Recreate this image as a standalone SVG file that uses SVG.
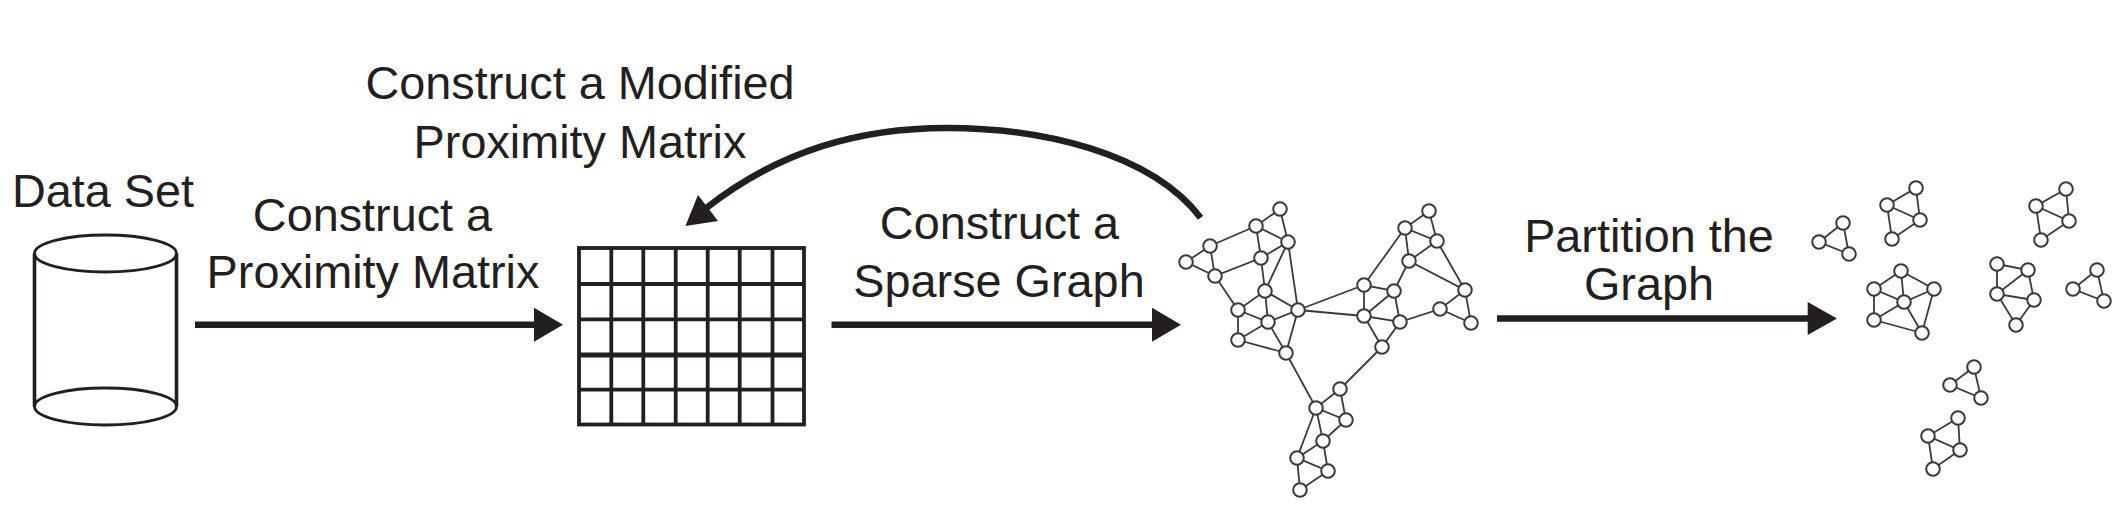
<svg xmlns="http://www.w3.org/2000/svg" width="2124" height="510" viewBox="0 0 2124 510">
<defs><style>
text{font-family:"Liberation Sans",Arial,sans-serif;font-size:46.8px;fill:#231f20;text-anchor:middle}
.o{fill:none;stroke:#231f20;stroke-width:2.8}
.w{fill:none;stroke:#231f20;stroke-width:3.6}
.g{fill:none;stroke:#231f20;stroke-width:3.8}
.t{fill:none;stroke:#231f20;stroke-width:5}
.s{fill:none;stroke:#231f20;stroke-width:6.6}
.h{fill:#231f20}
.e{fill:none;stroke:#3a3a3a;stroke-width:1.8}
circle{fill:#fff;stroke:#3a3a3a;stroke-width:2;r:6.8px}
</style></defs>
<rect width="2124" height="510" fill="#fff"/>
<g id="labels">
<text x="103" y="206.5">Data Set</text>
<text x="372.5" y="230.5">Construct a</text>
<text x="373" y="288">Proximity Matrix</text>
<text x="580" y="99">Construct a Modified</text>
<text x="580" y="158">Proximity Matrix</text>
<text x="999.5" y="239">Construct a</text>
<text x="999" y="296.5">Sparse Graph</text>
<text x="1649" y="252">Partition the</text>
<text x="1649" y="300">Graph</text>
</g>
<g id="dataset">
<path class="w" d="M34.5 253.5V406.5M176.5 253.5V406.5"/>
<ellipse class="o" cx="105.5" cy="253.5" rx="71" ry="18.5"/>
<ellipse class="o" cx="105.5" cy="406.5" rx="71" ry="18.5"/>
</g>
<g id="matrix">
<rect class="g" x="579" y="248" width="225" height="176.5"/>
<path class="g" d="M611.3 248V424.5M643.3 248V424.5M675.7 248V424.5M707.7 248V424.5M739.7 248V424.5M772.5 248V424.5M579 284H804M579 319.3H804M579 389.7H804"/>
<path class="t" d="M579 355H804"/>
</g>
<g id="connectors">
<path class="s" d="M195 324.7H536"/>
<path class="h" d="M534 307.7L563 324.7L534 341.7Z"/>
<path class="s" d="M831.5 324.7H1154"/>
<path class="h" d="M1152 307.7L1181 324.7L1152 341.7Z"/>
<path class="s" d="M1497 318.5H1810"/>
<path class="h" d="M1807.7 302L1837 318.5L1807.7 335Z"/>
<path class="s" d="M1200.6 217.7C1150 152 1040 128 947 128C860 128 780 150 705 209"/>
<path class="h" d="M685.4 226L698 195L718 221Z"/>
</g>
<g id="sparse-graph">
<path class="e" d="M1280 209L1256 226L1288 242L1280 209M1256 226L1210 246L1186 262L1215 276L1210 246M1256 226L1261 258L1288 242L1265 291L1261 258L1215 276L1238 310L1265 291L1298 310L1288 242M1265 291L1268 322L1238 310L1238 340L1268 322L1298 310L1286 353L1268 322M1238 340L1286 353M1298 310L1364 285M1298 310L1364 316M1429 211L1405 228L1437 241L1429 211M1405 228L1409 261L1437 241L1465 290L1409 261L1394 291L1364 285L1364 316L1394 291L1400 322L1364 316L1382 347L1400 322L1440 309L1465 290L1471 323L1440 309M1405 228L1364 285M1382 347L1340 389L1316 408L1286 353M1340 389L1346 420L1316 408L1323 441L1346 420M1316 408L1297 458L1323 441L1328 471L1297 458L1300 490L1328 471"/>
<circle cx="1280" cy="209"/><circle cx="1256" cy="226"/><circle cx="1288" cy="242"/><circle cx="1210" cy="246"/><circle cx="1261" cy="258"/><circle cx="1186" cy="262"/><circle cx="1215" cy="276"/><circle cx="1265" cy="291"/><circle cx="1238" cy="310"/><circle cx="1298" cy="310"/><circle cx="1268" cy="322"/><circle cx="1238" cy="340"/><circle cx="1286" cy="353"/>
<circle cx="1429" cy="211"/><circle cx="1405" cy="228"/><circle cx="1437" cy="241"/><circle cx="1409" cy="261"/><circle cx="1465" cy="290"/><circle cx="1364" cy="285"/><circle cx="1394" cy="291"/><circle cx="1364" cy="316"/><circle cx="1400" cy="322"/><circle cx="1440" cy="309"/><circle cx="1471" cy="323"/><circle cx="1382" cy="347"/>
<circle cx="1340" cy="389"/><circle cx="1316" cy="408"/><circle cx="1346" cy="420"/><circle cx="1323" cy="441"/><circle cx="1297" cy="458"/><circle cx="1328" cy="471"/><circle cx="1300" cy="490"/>
</g>
<g id="partition-1"><path class="e" d="M1843 223L1819 242L1849 254Z"/><circle cx="1843" cy="223"/><circle cx="1819" cy="242"/><circle cx="1849" cy="254"/></g>
<g id="partition-2"><path class="e" d="M1916 188L1887 205L1920 220ZM1887 205L1892 239L1920 220"/><circle cx="1916" cy="188"/><circle cx="1887" cy="205"/><circle cx="1920" cy="220"/><circle cx="1892" cy="239"/></g>
<g id="partition-3"><path class="e" d="M2066 189L2036 206L2069 221ZM2036 206L2041 240L2069 221"/><circle cx="2066" cy="189"/><circle cx="2036" cy="206"/><circle cx="2069" cy="221"/><circle cx="2041" cy="240"/></g>
<g id="partition-4"><path class="e" d="M1901 271L1874 289L1904 302L1934 289L1901 271L1904 302M1874 289L1874 320L1904 302L1922 333L1934 289M1874 320L1922 333"/><circle cx="1901" cy="271"/><circle cx="1874" cy="289"/><circle cx="1934" cy="289"/><circle cx="1904" cy="302"/><circle cx="1874" cy="320"/><circle cx="1922" cy="333"/></g>
<g id="partition-5"><path class="e" d="M1997 264L2028 270L1997 294ZM2028 270L2034 300L1997 294L2016 325L2034 300"/><circle cx="1997" cy="264"/><circle cx="2028" cy="270"/><circle cx="1997" cy="294"/><circle cx="2034" cy="300"/><circle cx="2016" cy="325"/></g>
<g id="partition-6"><path class="e" d="M2097 270L2073 289L2104 301Z"/><circle cx="2097" cy="270"/><circle cx="2073" cy="289"/><circle cx="2104" cy="301"/></g>
<g id="partition-7"><path class="e" d="M1974 367L1950 385L1981 398Z"/><circle cx="1974" cy="367"/><circle cx="1950" cy="385"/><circle cx="1981" cy="398"/></g>
<g id="partition-8"><path class="e" d="M1958 418L1928 436L1960 450ZM1928 436L1933 469L1960 450"/><circle cx="1958" cy="418"/><circle cx="1928" cy="436"/><circle cx="1960" cy="450"/><circle cx="1933" cy="469"/></g>
</svg>
